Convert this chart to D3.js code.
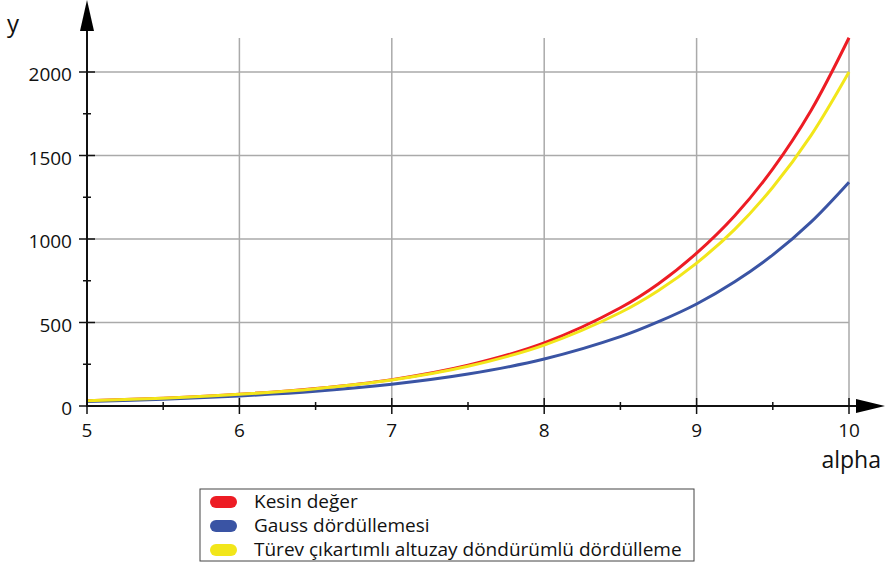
<!DOCTYPE html>
<html><head><meta charset="utf-8">
<script src="https://cdn.jsdelivr.net/npm/d3@7"></script>
<style>body{margin:0;background:#fff}svg{display:block}text{font-family:"Open Sans",sans-serif;fill:#111}</style>
</head><body><svg id="c" width="885" height="570"></svg>
<script>
const alpha = [5, 5.5, 6, 6.5, 7, 7.5, 8, 8.5, 8.75, 9, 9.25, 9.5, 9.75, 10];
const kesin = [32, 47, 70, 105, 158, 244, 378, 588, 732, 915, 1139, 1420, 1768, 2205];
const gauss = [27, 40, 60, 88, 130, 191, 281, 415, 505, 611, 744, 905, 1101, 1340];
const turev = [32, 47, 70, 104, 156, 238, 365, 560, 692, 856, 1058, 1310, 1619, 2000];
const seriesNames = ["Kesin değer", "Gauss dördüllemesi", "Türev çıkartımlı altuzay döndürümlü dördülleme"];
const seriesColors = ["#ed1c24", "#3a54a4", "#f2e61a"];
const xTicks = [5, 6, 7, 8, 9, 10];
const xMinor = [5.5, 6.5, 7.5, 8.5, 9.5];
const yTicks = [0, 500, 1000, 1500, 2000];
const yMinor = [250, 750, 1250, 1750];

const svg = d3.select("#c");
const x = d3.scaleLinear().domain([5, 10]).range([87, 849]);
const y = d3.scaleLinear().domain([0, 2000]).range([406, 72]);
const gridTop = y(2204);

// grid
const g = svg.append("g");
g.selectAll(".vg").data(xTicks.slice(1)).join("line")
  .attr("x1", d => x(d)).attr("x2", d => x(d)).attr("y1", gridTop).attr("y2", y(0))
  .attr("stroke", "#aaa").attr("stroke-width", 1.5);
g.selectAll(".hg").data(yTicks.slice(1)).join("line")
  .attr("x1", x(5)).attr("x2", x(10)).attr("y1", d => y(d)).attr("y2", d => y(d))
  .attr("stroke", "#aaa").attr("stroke-width", 1.5);

// curves
const line = d3.line().x((d, i) => x(alpha[i])).y(d => y(d)).curve(d3.curveCatmullRom.alpha(0.5));
const order = [[kesin, 0], [gauss, 1], [turev, 2]];
order.forEach(([vals, k]) => {
  svg.append("path").datum(vals).attr("d", line).attr("fill", "none")
    .attr("stroke", seriesColors[k]).attr("stroke-width", 3);
});

// axes
const ax = svg.append("g").attr("stroke", "#111");
ax.append("line").attr("x1", x(5)).attr("x2", x(5)).attr("y1", y(0) + 1).attr("y2", 28).attr("stroke-width", 2);
ax.append("line").attr("x1", x(5) - 1).attr("x2", 858).attr("y1", y(0)).attr("y2", y(0)).attr("stroke-width", 2);
svg.append("path").attr("d", `M${x(5)},0 L${x(5) - 7},31 L${x(5) + 7},31 Z`).attr("fill", "#000");
svg.append("path").attr("d", `M885,${y(0)} L856,${y(0) - 7} L856,${y(0) + 7} Z`).attr("fill", "#000");

ax.selectAll(".xt").data(xTicks).join("line")
  .attr("x1", d => x(d)).attr("x2", d => x(d)).attr("y1", y(0) - 8).attr("y2", y(0) + 8).attr("stroke-width", 1.5);
ax.selectAll(".xm").data(xMinor).join("line")
  .attr("x1", d => x(d)).attr("x2", d => x(d)).attr("y1", y(0) - 4).attr("y2", y(0) + 4).attr("stroke-width", 1.5);
ax.selectAll(".yt").data(yTicks).join("line")
  .attr("x1", x(5) - 8).attr("x2", x(5) + 8).attr("y1", d => y(d)).attr("y2", d => y(d)).attr("stroke-width", 1.5);
ax.selectAll(".ym").data(yMinor).join("line")
  .attr("x1", x(5) - 4).attr("x2", x(5) + 4).attr("y1", d => y(d)).attr("y2", d => y(d)).attr("stroke-width", 1.5);

svg.selectAll(".xl").data(xTicks).join("text")
  .attr("x", d => x(d)).attr("y", 437).attr("text-anchor", "middle").attr("font-size", 19).text(d => d);
svg.selectAll(".yl").data(yTicks).join("text")
  .attr("x", 72).attr("y", d => y(d) + 9).attr("text-anchor", "end").attr("font-size", 19).text(d => d);

svg.append("text").attr("x", 881).attr("y", 468).attr("text-anchor", "end").attr("font-size", 23).text("alpha");
svg.append("text").attr("x", 7).attr("y", 32).attr("font-size", 24).text("y");

// legend
const lg = svg.append("g");
lg.append("rect").attr("x", 200).attr("y", 489).attr("width", 494).attr("height", 72)
  .attr("fill", "#fff").attr("stroke", "#444").attr("stroke-width", 1);
seriesNames.forEach((n, i) => {
  const cy = 502 + i * 24;
  lg.append("rect").attr("x", 210).attr("y", cy - 6).attr("width", 27).attr("height", 12).attr("rx", 6)
    .attr("fill", seriesColors[i]);
  lg.append("text").attr("x", 254).attr("y", cy + 6).attr("font-size", 19).text(n);
});
</script></body></html>
